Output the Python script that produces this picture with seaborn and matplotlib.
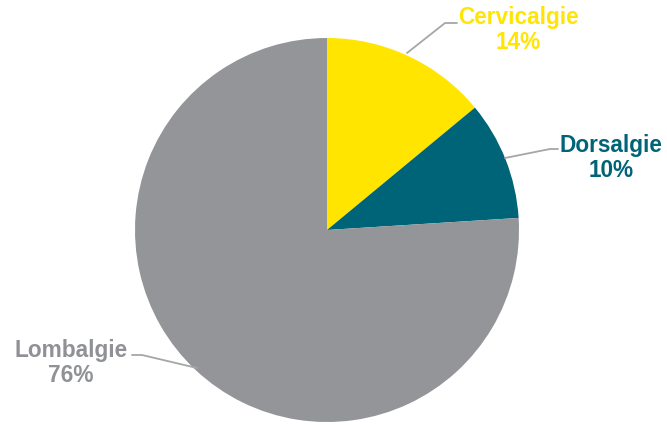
import matplotlib
matplotlib.use("Agg")
import matplotlib.pyplot as plt
import seaborn as sns

labels = ["Cervicalgie", "Dorsalgie", "Lombalgie"]
shares = [14, 10, 76]
colors = ["#FFE500", "#006478", "#939598"]
text_colors = ["#FFE500", "#006478", "#8F9194"]

sns.set_theme(style="white")
plt.rcParams["font.family"] = ["Liberation Sans", "DejaVu Sans"]

W, H = 667, 425
fig = plt.figure(figsize=(W / 100, H / 100), dpi=100)
ax = fig.add_axes([0, 0, 1, 1])

cx, cy, r = 327, H - 230, 192
ax.pie(shares, colors=colors, startangle=90, counterclock=False,
       center=(cx, cy), radius=r, frame=True,
       wedgeprops={"linewidth": 0, "edgecolor": "none"})
ax.set_xlim(0, W)
ax.set_ylim(0, H)
ax.set_aspect("equal")
ax.axis("off")

# label positions (pixels from top) and leader lines
label_pos = [(518, 17, 42), (611, 145, 170), (71, 350, 375)]
leaders = [
    [(407, 53), (445, 23), (457, 23)],
    [(505, 158), (550, 149), (558, 149)],
    [(132, 355), (142, 355), (197, 368)],
]

for name, val, tc, (lx, y1, y2), pts in zip(labels, shares, text_colors, label_pos, leaders):
    ax.text(lx, H - y1, name, ha="center", va="center", fontsize=16.3,
            fontweight="bold", color=tc)
    ax.text(lx, H - y2, f"{val}%", ha="center", va="center", fontsize=16.3,
            fontweight="bold", color=tc)
    xs = [p[0] for p in pts]
    ys = [H - p[1] for p in pts]
    ax.plot(xs, ys, color="#A6A6A6", lw=1.3)

fig.savefig("out.png", dpi=100, facecolor="white")
